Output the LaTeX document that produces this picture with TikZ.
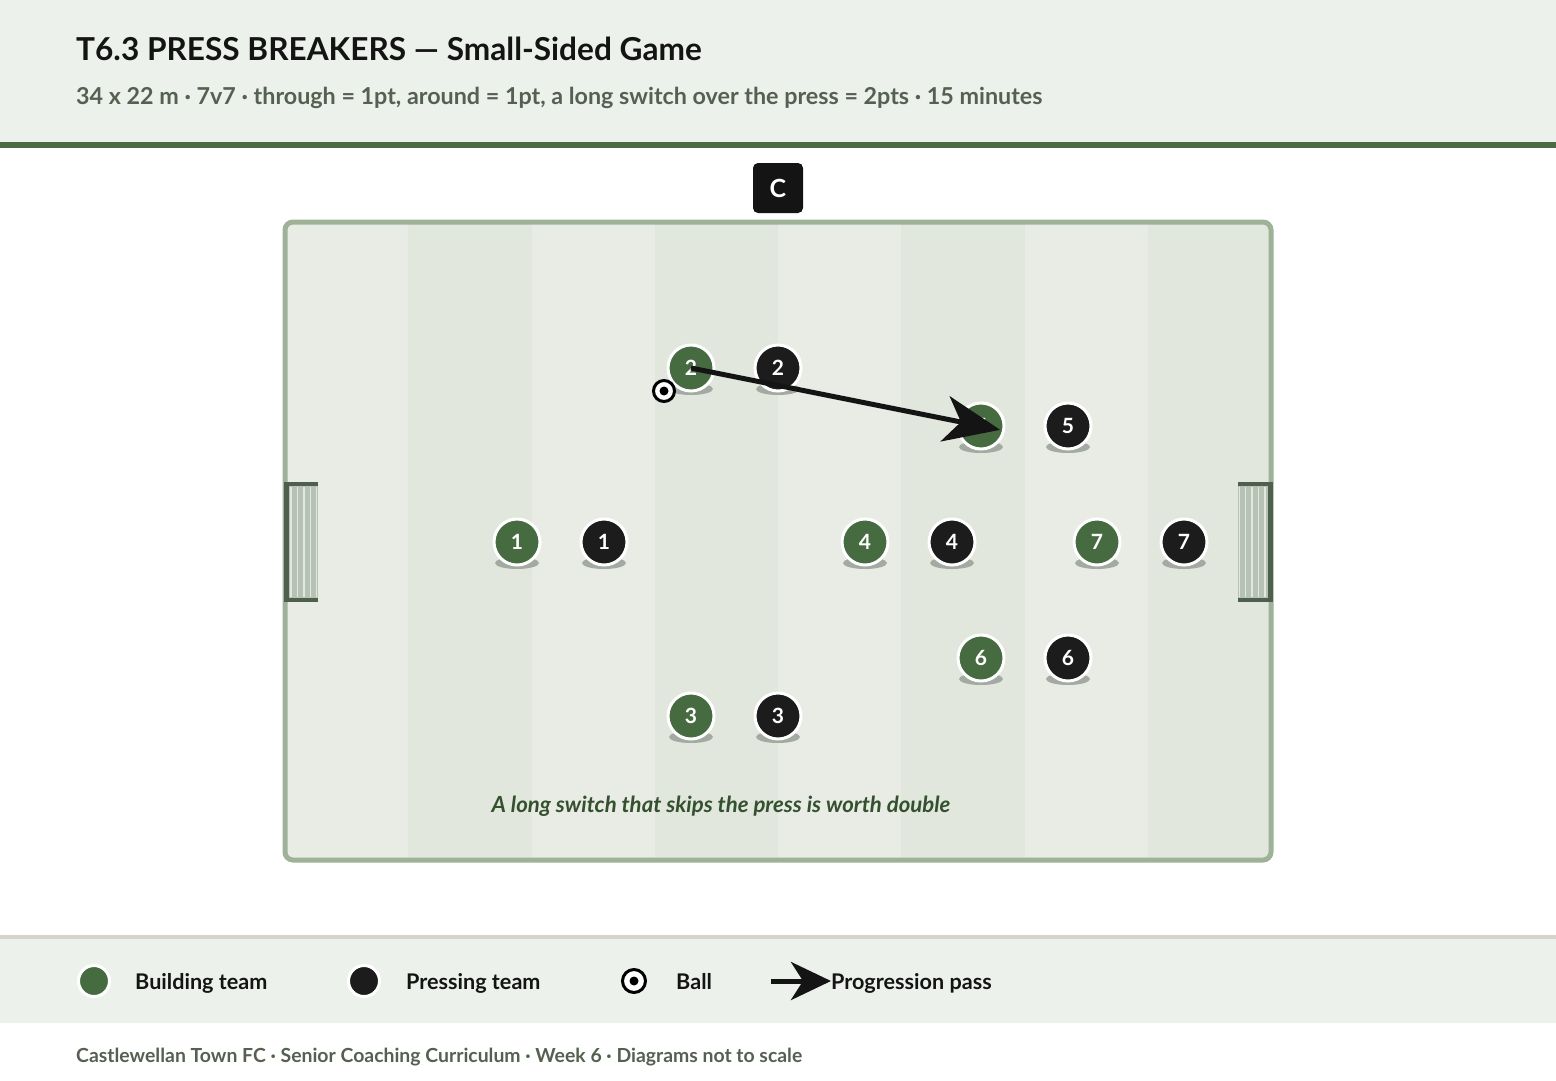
\documentclass[tikz,border=0pt]{standalone}
\usepackage{fontspec}
\setmainfont{Lato}
\usetikzlibrary{arrows.meta,calc}
\definecolor{headerbg}{HTML}{EDF1EC}
\definecolor{accent}{HTML}{4A6B43}
\definecolor{pitchA}{HTML}{E8ECE5}
\definecolor{pitchB}{HTML}{E1E7DD}
\definecolor{pitchline}{HTML}{9DB297}
\definecolor{teamG}{HTML}{476B40}
\definecolor{teamK}{HTML}{1C1C1C}
\definecolor{titlec}{HTML}{141414}
\definecolor{subc}{HTML}{556052}
\definecolor{notec}{HTML}{34502E}
\definecolor{legline}{HTML}{D6D3CB}
\definecolor{goalpost}{HTML}{4E5F4E}
\definecolor{goalnet}{HTML}{B6C2B3}
\definecolor{goalstr}{HTML}{E2E8E0}
\definecolor{shadowc}{HTML}{A3AAA1}
\tikzset{
  player/.style={circle,draw=white,line width=3pt,minimum size=46pt,inner sep=0pt,
    text=white,font=\fontsize{21}{24}\selectfont\bfseries},
  pg/.style={player,fill=teamG},
  pk/.style={player,fill=teamK},
  ballst/.style={circle,draw=black,fill=white,line width=3pt,minimum size=21pt,inner sep=0pt},
  legtext/.style={anchor=base west,inner sep=0pt,text=titlec,font=\fontsize{21.6}{26}\selectfont\bfseries},
  passarrow/.style={line width=5pt,draw=titlec,-{Stealth[length=56pt,width=46pt,inset=16pt]}},
}
\newcommand{\plshadow}[2]{\fill[shadowc] (#1,#2+21) ellipse [x radius=22pt,y radius=6pt];}
\begin{document}
\begin{tikzpicture}[x=1pt,y=-1pt]
\useasboundingbox (0,0) rectangle (1556,1080);
\fill[white] (0,0) rectangle (1556,1080);
% header
\fill[headerbg] (0,0) rectangle (1556,143);
\fill[accent] (0,142) rectangle (1556,148);
\node[anchor=base west,inner sep=0pt,text=titlec,font=\fontsize{31.6}{36}\selectfont\bfseries] (title) at (76,60) {T6.3 PRESS BREAKERS — Small-Sided Game};
\node[anchor=base west,inner sep=0pt,text=subc,font=\fontsize{23.3}{26}\selectfont\bfseries] (subtitle) at (76,104) {34 x 22 m · 7v7 · through = 1pt, around = 1pt, a long switch over the press = 2pts · 15 minutes};
% coach
\node[fill=titlec,rounded corners=5pt,minimum width=50pt,minimum height=50pt,inner sep=0pt,text=white,font=\fontsize{25}{28}\selectfont\bfseries] (coach) at (778,188) {C};
% pitch stripes
\begin{scope}
\clip[rounded corners=8pt] (285,222) rectangle (1271,860);
\foreach \i in {0,...,7}{
  \pgfmathsetmacro{\xa}{285+123.25*\i}
  \pgfmathsetmacro{\xb}{285+123.25*(\i+1)}
  \pgfmathparse{mod(\i,2)==0?1:0}
  \ifnum\pgfmathresult=1
    \fill[pitchA] (\xa,222) rectangle (\xb,860);
  \else
    \fill[pitchB] (\xa,222) rectangle (\xb,860);
  \fi
}
\end{scope}
\draw[pitchline,line width=5pt,rounded corners=8pt] (285,222) rectangle (1271,860);
% goals
\fill[goalnet] (287,486) rectangle (318,598);
\foreach \gx in {291,297.5,304,310.5,316.5}{\draw[goalstr,line width=1.2pt] (\gx,487) -- (\gx,597);}
\draw[goalpost,line width=4pt] (285,484) -- (318,484);
\draw[goalpost,line width=4pt] (285,600) -- (318,600);
\draw[goalpost,line width=5pt] (286,482) -- (286,602);
\fill[goalnet] (1238,486) rectangle (1269,598);
\foreach \gx in {1239.5,1245.5,1252,1258.5,1265}{\draw[goalstr,line width=1.2pt] (\gx,487) -- (\gx,597);}
\draw[goalpost,line width=4pt] (1238,484) -- (1271,484);
\draw[goalpost,line width=4pt] (1238,600) -- (1271,600);
\draw[goalpost,line width=5pt] (1270,482) -- (1270,602);
% shadows
\foreach \px/\py in {691/368,778/368,981/426,1068/426,517/542,604/542,865/542,952/542,1097/542,1184/542,981/658,1068/658,691/716,778/716}{\plshadow{\px}{\py}}
% players
\node[pg] (g2) at (691,368) {2};
\node[pk] (k2) at (778,368) {2};
\node[pg] (g5) at (981,426) {5};
\node[pk] (k5) at (1068,426) {5};
\node[pg] (g1) at (517,542) {1};
\node[pk] (k1) at (604,542) {1};
\node[pg] (g4) at (865,542) {4};
\node[pk] (k4) at (952,542) {4};
\node[pg] (g7) at (1097,542) {7};
\node[pk] (k7) at (1184,542) {7};
\node[pg] (g6) at (981,658) {6};
\node[pk] (k6) at (1068,658) {6};
\node[pg] (g3) at (691,716) {3};
\node[pk] (k3) at (778,716) {3};
% ball
\node[ballst] (ball) at (664,391) {};
\fill[black] (ball.center) circle (4.5pt);
% pass
\draw[passarrow] (g2.center) -- ($(g2.center)!1.066!(g5.center)$);
% note
\node[text=notec,font=\fontsize{22.2}{26}\selectfont\bfseries\itshape] (note) at (721,806) {A long switch that skips the press is worth double};
% legend band
\fill[headerbg] (0,937) rectangle (1556,1023);
\fill[legline] (0,935) rectangle (1556,939);
\node[circle,draw=white,line width=3pt,fill=teamG,minimum size=31pt,inner sep=0pt] (lg) at (94,981) {};
\node[legtext] (lgt) at (135,989) {Building team};
\node[circle,draw=white,line width=3pt,fill=teamK,minimum size=31pt,inner sep=0pt] (lk) at (364,981) {};
\node[legtext] (lkt) at (406,989) {Pressing team};
\node[ballst,minimum size=23pt] (lb) at (634,981) {};
\fill[black] (lb.center) circle (4.5pt);
\node[legtext] (lbt) at (676,989) {Ball};
\coordinate (la) at (771,981);
\node[legtext] (lat) at (831,989) {Progression pass};
\draw[passarrow,-{Stealth[length=40pt,width=38pt,inset=12pt]}] (la) -- (lat.west |- la);
% footer
\node[anchor=base west,inner sep=0pt,text=subc,font=\fontsize{19.4}{22}\selectfont\bfseries] (footer) at (76,1062) {Castlewellan Town FC · Senior Coaching Curriculum · Week 6 · Diagrams not to scale};
\end{tikzpicture}
\end{document}
